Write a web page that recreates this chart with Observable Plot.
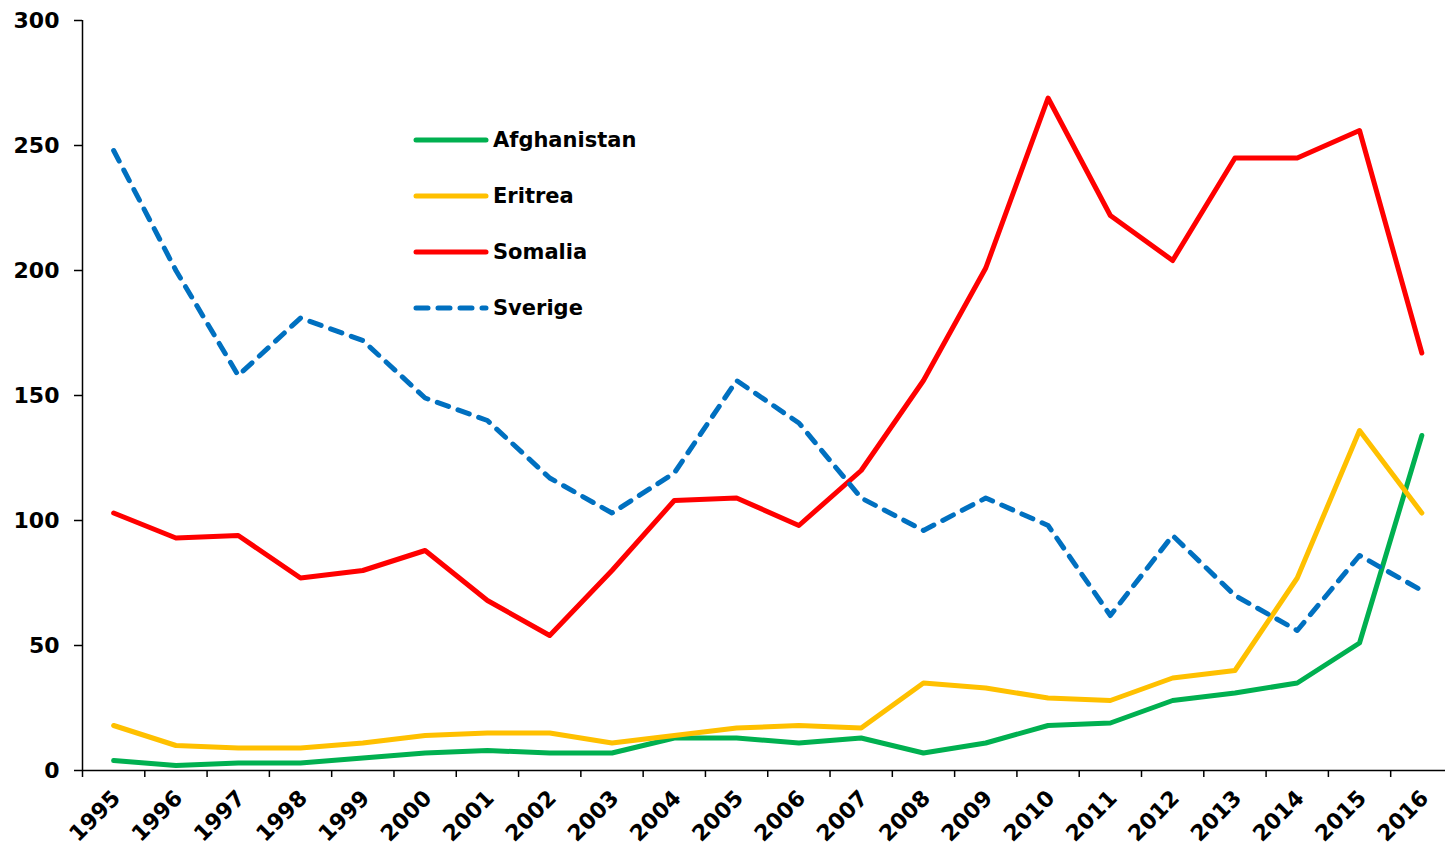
<!DOCTYPE html>
<html><head><meta charset="utf-8">
<script src="https://cdn.jsdelivr.net/npm/d3@7"></script>
<script src="https://cdn.jsdelivr.net/npm/@observablehq/plot@0.6"></script>
<style>
body{margin:0;background:#fff;font-family:"DejaVu Sans",Verdana,sans-serif;}
#wrap{position:relative;width:1445px;height:846px;}
#legend{position:absolute;left:0;top:0;}
.item{position:absolute;display:flex;align-items:center;white-space:nowrap;font-weight:bold;font-size:21px;color:#000;height:30px;}
.item span{margin-left:4px;}
</style></head><body><div id="wrap"><div id="legend"></div></div>
<script>
const years = [1995,1996,1997,1998,1999,2000,2001,2002,2003,2004,2005,2006,2007,2008,2009,2010,2011,2012,2013,2014,2015,2016];
const yTicks = [0,50,100,150,200,250,300];
const names = ["Afghanistan","Eritrea","Somalia","Sverige"];
const afghanistan = [4,2,3,3,5,7,8,7,7,13,13,11,13,7,11,18,19,28,31,35,51,134];
const eritrea = [18,10,9,9,11,14,15,15,11,14,17,18,17,35,33,29,28,37,40,77,136,103];
const somalia = [103,93,94,77,80,88,68,54,80,108,109,98,120,156,201,269,222,204,245,245,256,167];
const sverige = [248,200,158,181,172,149,140,117,103,119,156,139,109,96,109,98,62,94,70,56,86,72];
const colors = ["#00B050","#FFC000","#FF0000","#0070C0"];
const dashes = [null,null,null,"12,10"];

const seriesValues = [afghanistan, eritrea, somalia, sverige];
const rows = names.map((n, k) => years.map((yr, i) => ({year: yr, value: seriesValues[k][i], name: n})));
const bounds = years.map(y => y - 0.5);

const chart = Plot.plot({
  width: 1445, height: 846,
  marginLeft: 82, marginRight: 0, marginTop: 20, marginBottom: 76,
  style: {fontFamily: "DejaVu Sans, Verdana, sans-serif", fontWeight: "bold", fontSize: "22px", color: "#000", background: "#fff", overflow: "visible"},
  x: {domain: [1994.5, 2016.38]},
  y: {domain: [0, 300]},
  marks: [
    Plot.axisY({ticks: yTicks, tickSize: 8, tickPadding: 15, tickFormat: d => String(d), strokeWidth: 1.5, label: null, fontSize: 22}),
    Plot.axisX({ticks: bounds, tickSize: 7, tickFormat: () => "", strokeWidth: 1.5, label: null}),
    Plot.axisX({ticks: years, tickSize: 0, tickPadding: 24, dx: 3, tickRotate: -45, tickFormat: d => String(d), label: null, fontSize: 22}),
    ...rows.map((r, k) => Plot.line(r, {x: "year", y: "value", stroke: colors[k], strokeWidth: 5, strokeLinecap: "round", strokeLinejoin: "round", strokeDasharray: dashes[k] || undefined})),
    Plot.ruleX([1994.5], {stroke: "#000", strokeWidth: 1.5}),
    Plot.ruleY([0], {stroke: "#000", strokeWidth: 1.5})
  ]
});
document.getElementById("wrap").prepend(chart);

const legend = document.getElementById("legend");
const legendTops = [125, 181, 237, 293];
names.forEach((n, k) => {
  const d = document.createElement("div");
  d.className = "item";
  d.style.left = "413px";
  d.style.top = legendTops[k] + "px";
  d.innerHTML = `<svg width="76" height="10"><line x1="3" y1="5" x2="73" y2="5" stroke="${colors[k]}" stroke-width="5" stroke-linecap="round" ${dashes[k] ? `stroke-dasharray="${dashes[k]}"` : ""}/></svg><span>${n}</span>`;
  legend.appendChild(d);
});
</script></body></html>
